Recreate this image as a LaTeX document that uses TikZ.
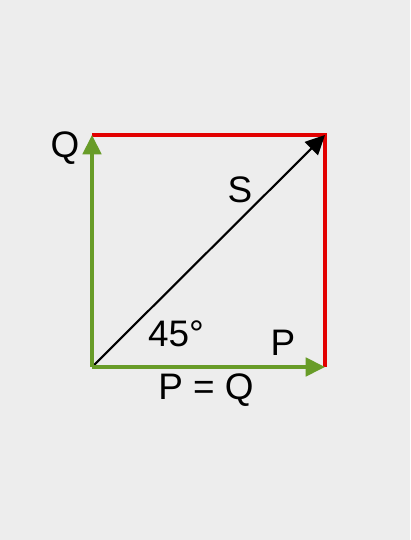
\documentclass[tikz,border=0pt]{standalone}
\usepackage{fontspec}
\setmainfont{Liberation Sans}
\usetikzlibrary{arrows.meta}
\definecolor{bg}{RGB}{237,237,237}
\definecolor{vecgreen}{RGB}{104,156,40}
\definecolor{sidered}{RGB}{226,0,0}
\tikzset{
  lbl/.style={font=\fontsize{21}{25}\selectfont, inner sep=0pt},
  vec/.style={-{Triangle[length=11pt, width=10.5pt]}},
}
\begin{document}
\begin{tikzpicture}[x=0.02cm, y=0.02cm]
\fill[bg] (0,0) rectangle (410,540);
\useasboundingbox (0,0) rectangle (410,540);
\coordinate (O) at (92,173);
\coordinate (P) at (325,173);
\coordinate (Q) at (92,405);
\coordinate (C) at (325,405);
\draw[sidered, line width=1.8pt] (Q) -- (C) -- (P);
\draw[vec, black, line width=1.2pt] (O) -- (C);
\draw[vec, vecgreen, line width=2pt] (O) -- (P);
\draw[vec, vecgreen, line width=2pt] (O) -- (Q);
\node[lbl](q) at (65,392){Q};
\node[lbl](s) at (240,350){S};
\node[lbl](ang) at (176,206){45°};
\node[lbl](p) at (283,197){P};
\node[lbl](pq) at (206,150){P = Q};
\end{tikzpicture}
\end{document}
